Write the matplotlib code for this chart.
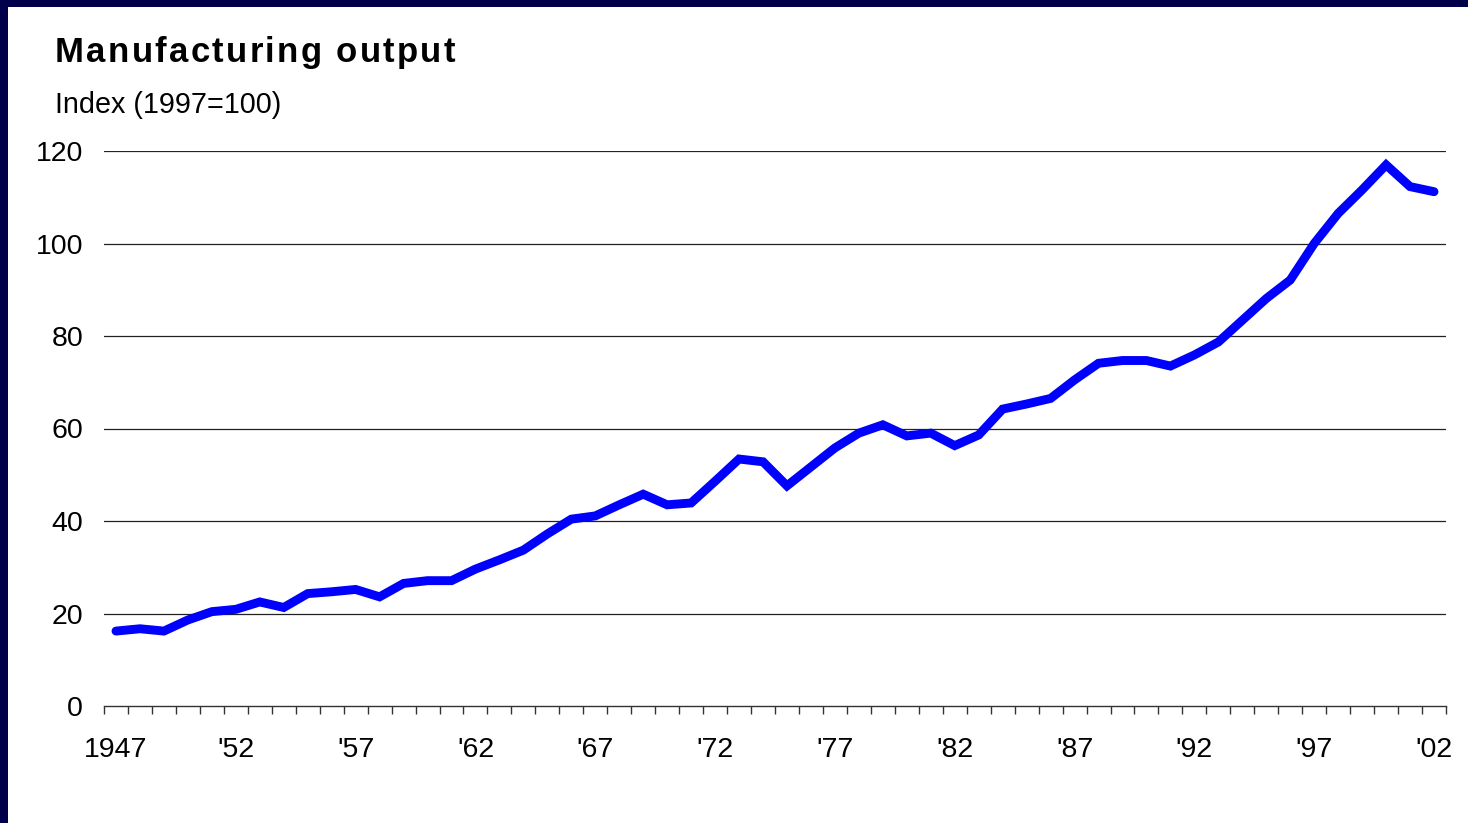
import numpy as np
import matplotlib.pyplot as plt
from matplotlib.patches import Rectangle
from matplotlib.ticker import FixedLocator, FixedFormatter

# Manufacturing output index, 1997 = 100
years = list(range(1947, 2003))
output = [16.2, 16.7, 16.2, 18.6, 20.4, 20.9, 22.5, 21.3, 24.3, 24.7,
          25.2, 23.6, 26.5, 27.1, 27.1, 29.6, 31.6, 33.7, 37.2, 40.4,
          41.1, 43.5, 45.8, 43.5, 43.9, 48.6, 53.4, 52.8, 47.6, 51.7,
          55.8, 59.0, 60.8, 58.4, 59.0, 56.3, 58.6, 64.2, 65.3, 66.5,
          70.5, 74.1, 74.7, 74.7, 73.5, 75.9, 78.7, 83.4, 88.1, 92.1,
          100.0, 106.5, 111.6, 117.0, 112.3, 111.2]
label_years = [1947, 1952, 1957, 1962, 1967, 1972, 1977, 1982, 1987, 1992, 1997, 2002]
x_labels = ["1947", "'52", "'57", "'62", "'67", "'72", "'77", "'82", "'87", "'92", "'97", "'02"]
y_ticks = [0, 20, 40, 60, 80, 100, 120]

W, H = 1468, 823
font = "Liberation Sans"
plt.rcParams['font.family'] = [font, 'DejaVu Sans']

fig = plt.figure(figsize=(W/100, H/100), dpi=100)
fig.patch.set_facecolor('#00004a')
# white slide panel
fig.patches.append(Rectangle((8/W, 0), 1, 1 - 7/H, transform=fig.transFigure,
                             facecolor='white', edgecolor='none', zorder=-10))

ax = fig.add_axes([104/W, 1 - 706/H, (1446 - 104)/W, (706 - 151)/H])
ax.set_zorder(5)
ax.set_facecolor('none')
ax.plot(years, output, color='#0000ff', lw=6.4, solid_capstyle='round',
        solid_joinstyle='miter', zorder=3)

ax.set_xlim(1946.5, 2002.5)
ax.set_ylim(0, 120)
for s in ['top', 'right', 'left']:
    ax.spines[s].set_visible(False)
ax.spines['bottom'].set_color('#333333')
ax.spines['bottom'].set_linewidth(1.0)

ax.set_yticks(y_ticks)
ax.set_yticklabels([str(v) for v in y_ticks])
ax.tick_params(axis='y', length=0, pad=15, labelsize=20.5)
for v in y_ticks[1:]:
    ax.axhline(v, color='#222222', lw=0.9, zorder=1)

ax.xaxis.set_major_locator(FixedLocator(label_years))
ax.xaxis.set_major_formatter(FixedFormatter(x_labels))
ax.xaxis.set_minor_locator(FixedLocator(np.arange(1946.5, 2003, 1.0)))
ax.tick_params(axis='x', which='major', length=0, pad=22, labelsize=20.5)
ax.tick_params(axis='x', which='minor', length=6, width=1.0, color='#333333')

# title with a little letter spacing
renderer = fig.canvas.get_renderer()
def text_w(s, **kw):
    t = fig.text(0, 0, s, **kw)
    w = t.get_window_extent(renderer).width
    t.remove()
    return w

title = "Manufacturing output"
tkw = dict(fontsize=25, fontweight='bold', family=font, color='black')
ref = text_w("x", **tkw)
x0, spacing = 55, 2.3
for i, ch in enumerate(title):
    if ch == ' ':
        continue
    off = text_w(title[:i] + "x", **tkw) - ref
    fig.text((x0 + off + i*spacing)/W, 1 - 62/H, ch, ha='left', va='baseline', **tkw)

fig.text(55/W, 1 - 113/H, "Index (1997=100)", fontsize=20.7, ha='left', va='baseline',
         color='black')

fig.savefig('out.png', dpi=100, facecolor=fig.get_facecolor())
